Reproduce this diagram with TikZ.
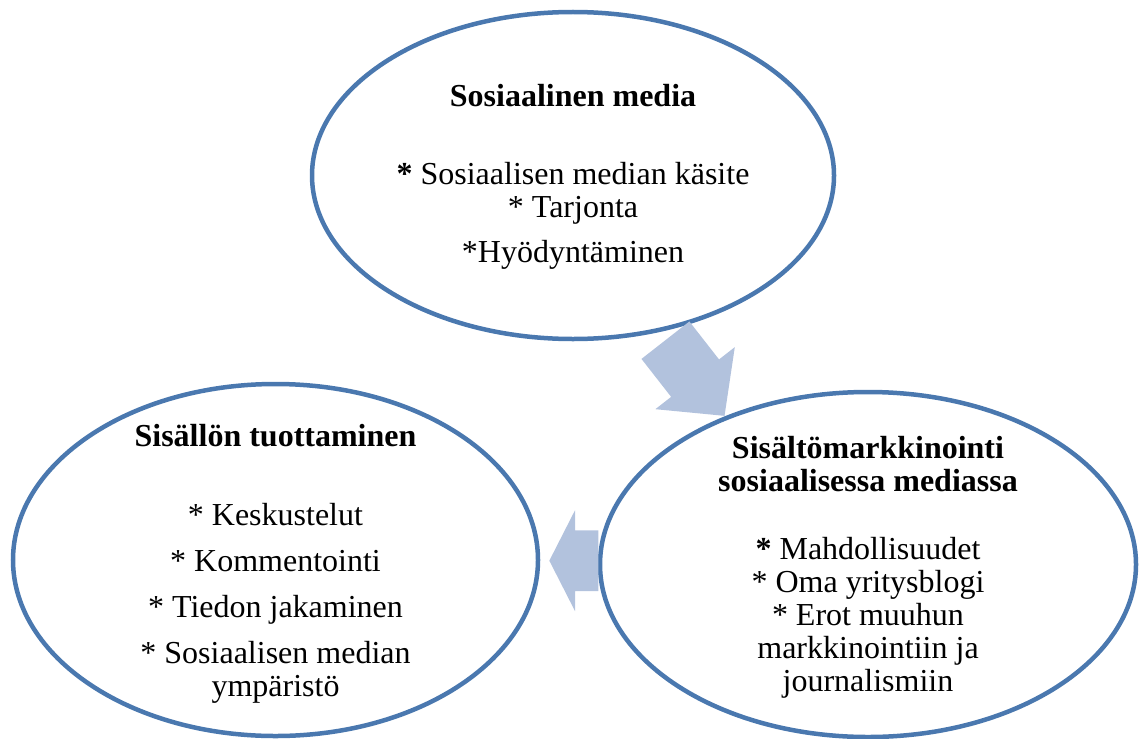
\documentclass[tikz,border=0pt]{standalone}
\usepackage{fontspec}
\setmainfont{Liberation Serif}
\usepackage{tikz}
\usetikzlibrary{calc,shapes.geometric,shapes.arrows}
\definecolor{ringblue}{RGB}{74,120,175}
\definecolor{arrowfill}{RGB}{178,194,221}
\tikzset{>=stealth,
  ring/.style={ellipse, draw=ringblue, line width=2.25pt, inner sep=0pt},
  ringtext/.style={align=center, inner sep=0pt,
    font=\fontsize{16pt}{16.5pt}\selectfont},
  blockarrow/.style={single arrow, fill=arrowfill, draw=none, inner sep=0pt,
    inner ysep=15pt, single arrow head extend=10pt, minimum width=0pt}}

\begin{document}
\begin{tikzpicture}[x=0.5pt,y=-0.5pt]
      \useasboundingbox (0,0) rectangle (1144,738);
      \node [ring, minimum width=261pt, minimum height=163.5pt,
           label={[ringtext, yshift=-0.5pt]center:{\textbf{Sosiaalinen media}\\[22.5pt]
           \textbf{*} Sosiaalisen median käsite\\ * Tarjonta\\[6pt]
           *Hyödyntäminen}}] (media) at (573,175.5) {};
      \node [ring, minimum width=268pt, minimum height=172.5pt,
           label={[ringtext, yshift=-1.5pt]center:{\textbf{Sisältömarkkinointi}\\
           \textbf{sosiaalisessa mediassa}\\[17.5pt]
           \textbf{*} Mahdollisuudet\\ * Oma yritysblogi\\ * Erot muuhun\\
           markkinointiin ja\\ journalismiin}}] (sisalto) at (868,564.5) {};
      \node [ring, minimum width=262.5pt, minimum height=176pt,
           label={[ringtext, yshift=-2pt]center:{\textbf{Sisällön tuottaminen}\\[23pt]
           * Keskustelut\\[6.5pt] * Kommentointi\\[6.5pt]
           * Tiedon jakaminen\\[6.5pt] * Sosiaalisen median\\ ympäristö}}]
           (tuotanto) at (275.5,560) {};
      \node [blockarrow, minimum height=48pt, single arrow tip angle=93,
           rotate=-52, anchor=tip] (nuoli1) at (sisalto.134) {};
      \node [blockarrow, minimum height=24.5pt, single arrow tip angle=126,
           rotate=180, anchor=tip] (nuoli2)
           at ($(tuotanto.east)!0.15!(sisalto.west)$) {};
    \end{tikzpicture}
\end{document}
